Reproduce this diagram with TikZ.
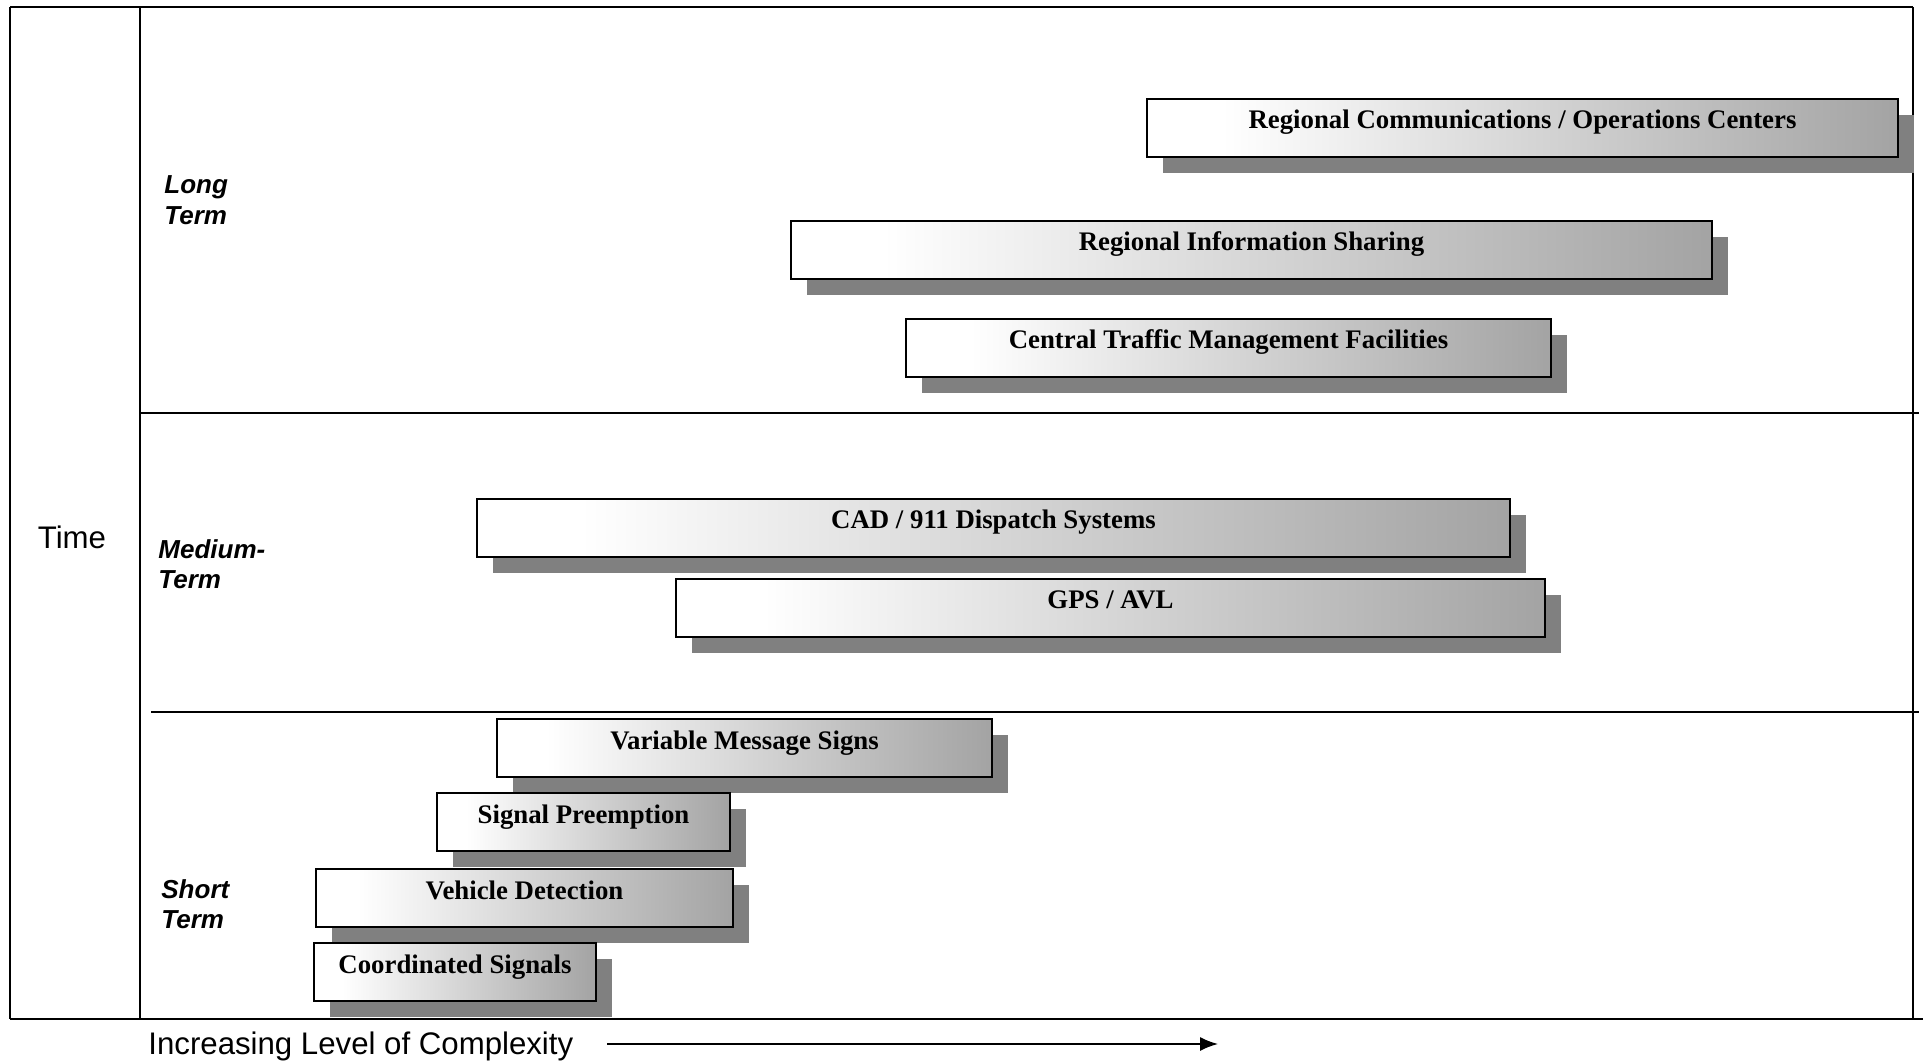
\documentclass[tikz,border=0pt]{standalone}
\usepackage{fontspec}
\setmainfont{Liberation Serif}
\newfontfamily\arialfont{Liberation Sans}
\usetikzlibrary{arrows.meta}

% white on the left, fading to grey on the right
\pgfdeclarehorizontalshading{barshade}{100bp}{color(0bp)=(white); color(25bp)=(white); color(30bp)=(white); color(75bp)=(black!36); color(100bp)=(black!36)}

\tikzset{
  frameline/.style={line width=1pt},
  barbox/.style={draw, line width=1pt, shade, shading=barshade, inner sep=0pt,
    font=\fontsize{13.4}{14}\selectfont\bfseries, text height=8pt, text depth=7pt},
  barshadow/.style={fill=black!50},
  termlabel/.style={font=\arialfont\fontsize{13}{15.2}\selectfont\bfseries\itshape,
    align=left, anchor=west, inner sep=0pt},
  axislabel/.style={font=\arialfont\fontsize{15.6}{18}\selectfont, inner sep=0pt},
  axisarrow/.style={line width=0.8pt, -{Latex[length=9pt,width=7pt]}},
}

% name, left, top, right, bottom, text  (units: x=0.5pt, y downwards)
\newcommand\techbar[6]{%
  \fill[barshadow] (#2+16,#3+16) rectangle (#4+16,#5+16);
  \node[barbox, minimum width={(#4-#2)*0.5pt}, minimum height={(#5-#3)*0.5pt}]
    (#1) at ({(#2+#4)/2},{(#3+#5)/2}) {#6};
}

\begin{document}
\begin{tikzpicture}[x=0.5pt,y=-0.5pt]
\useasboundingbox (0,0) rectangle (1923,1063);

% frame and time bands
\draw[frameline] (10,7) -- (1913,7);
\draw[frameline] (10,7) -- (10,1019);
\draw[frameline] (140,7) -- (140,1019);
\draw[frameline] (1913,7) -- (1913,1019);
\draw[frameline] (10,1019) -- (1923,1019);
\draw[frameline] (140,413) -- (1919,413);
\draw[frameline] (151,712) -- (1919,712);

% axis labels
\node[axislabel] (time) at (72,537) {Time};
\node[termlabel] (longterm) at (164,200) {Long\\Term};
\node[termlabel] (mediumterm) at (158,564) {Medium-\\Term};
\node[termlabel] (shortterm) at (161,904) {Short\\Term};

% technology bars
\techbar{rcoc}{1147}{99}{1898}{157}{Regional Communications / Operations Centers}
\techbar{ris}{791}{221}{1712}{279}{Regional Information Sharing}
\techbar{ctmf}{906}{319}{1551}{377}{Central Traffic Management Facilities}
\techbar{cad}{477}{499}{1510}{557}{CAD / 911 Dispatch Systems}
\techbar{gps}{676}{579}{1545}{637}{GPS / AVL}
\techbar{vms}{497}{719}{992}{777}{Variable Message Signs}
\techbar{sp}{437}{793}{730}{851}{Signal Preemption}
\techbar{vd}{316}{869}{733}{927}{Vehicle Detection}
\techbar{cs}{314}{943}{596}{1001}{Coordinated Signals}

% complexity axis
\node[axislabel, anchor=west] (complexity) at (148,1046) {Increasing Level of Complexity};
\coordinate (arrowstart) at (607,1044);
\coordinate (arrowend) at (1218,1044);
\draw[axisarrow] (arrowstart) -- (arrowend);
\end{tikzpicture}
\end{document}
